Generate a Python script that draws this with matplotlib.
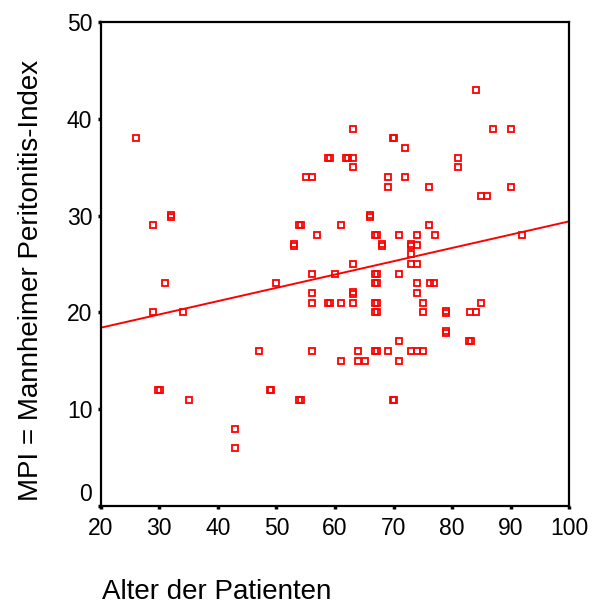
import numpy as np
import matplotlib
matplotlib.use("Agg")
import matplotlib.pyplot as plt
import matplotlib.transforms as mtransforms

# age of patient vs. MPI score (near-duplicates kept as pairs)
age = [26, 29, 32, 32, 31, 29, 34, 29.85, 30.15, 35,
       43, 43, 47, 48.85, 49.15, 50, 53, 53, 53.85, 54.15,
       53.85, 54.15, 55, 56, 56, 56, 56, 56, 57, 58.85,
       59.15, 58.85, 59.15, 60, 61, 61, 61, 61.85, 62.15, 63,
       63, 63, 63, 63, 63, 63, 64, 64, 65.2, 66,
       66, 66.85, 67.15, 66.85, 67.15, 66.85, 67.15, 66.85, 67.15, 66.85,
       67.15, 66.85, 67.15, 68, 68, 69, 69, 69, 69.85, 70.15,
       69.85, 70.15, 71, 71, 71, 71, 72, 72, 73, 73,
       73, 73, 73, 74, 74, 74, 74, 74, 74, 75,
       75, 75, 76, 76, 76.2, 77, 76.9, 79, 79, 79,
       79, 81, 81, 83, 82.85, 83.15, 84, 84, 85, 85,
       86, 87, 90, 90, 92]
mpi = [38, 29, 29.9, 30.1, 23, 20, 20, 12, 12, 11,
       8, 6, 16, 12, 12, 23, 26.9, 27.1, 29, 29,
       11, 11, 34, 34, 24, 22, 21, 16, 28, 36,
       36, 21, 21, 24, 29, 21, 15, 36, 36, 36,
       39, 35, 25, 21.9, 22.1, 21, 16, 15, 15, 29.9,
       30.1, 28, 28, 24, 24, 23, 23, 21, 21, 20,
       20, 16, 16, 26.9, 27.1, 34, 33, 16, 38, 38,
       11, 11, 28, 24, 17, 15, 37, 34, 26.9, 27.1,
       26, 25, 16, 28, 27, 25, 23, 22, 16, 21,
       20, 16, 33, 29, 23, 28, 23, 19.9, 20.1, 17.9,
       18.1, 36, 35, 20, 17, 17, 20, 43, 32, 21,
       32, 39, 39, 33, 28]

# fit line as drawn in the chart
fit_intercept = 15.67
fit_slope = 0.1374

xticks = [20, 30, 40, 50, 60, 70, 80, 90, 100]
yticks = [0, 10, 20, 30, 40, 50]

plt.rcParams['font.family'] = ['Liberation Sans', 'DejaVu Sans']

fig = plt.figure(figsize=(5.92, 6.05), dpi=100)
ax = fig.add_axes([0.1701, 0.1636, 0.7916, 0.8])

red = '#ff0000'
ax.plot(age, mpi, linestyle='none', marker='s', markersize=4.6,
        markerfacecolor='none', markeredgecolor=red, markeredgewidth=1.3)

xl = np.array([20, 100])
ax.plot(xl, fit_intercept + fit_slope * xl, color=red, linewidth=1.4)

ax.set_xlim(20, 100)
ax.set_ylim(0, 50)
ax.set_xticks(xticks)
ax.set_yticks(yticks)
ax.tick_params(axis='both', direction='out', length=2, width=2.5,
               labelsize=16.5, colors='black')
ax.tick_params(axis='x', pad=6)
ax.tick_params(axis='y', pad=4)

for s in ax.spines.values():
    s.set_linewidth(1.6)
    s.set_color('black')

# SPSS lifts the 0 label off the x axis
lbl0 = ax.get_yticklabels()[0]
lbl0.set_transform(lbl0.get_transform() +
                   mtransforms.ScaledTranslation(0, 14 / 100, fig.dpi_scale_trans))

fig.text(102 / 592, 1 - 592 / 605, 'Alter der Patienten', fontsize=20,
         ha='left', va='center')
fig.text(31 / 592, 1 - 280 / 605, 'MPI = Mannheimer Peritonitis-Index',
         fontsize=20, rotation=90, ha='center', va='center')

fig.savefig('out.png', dpi=100)
